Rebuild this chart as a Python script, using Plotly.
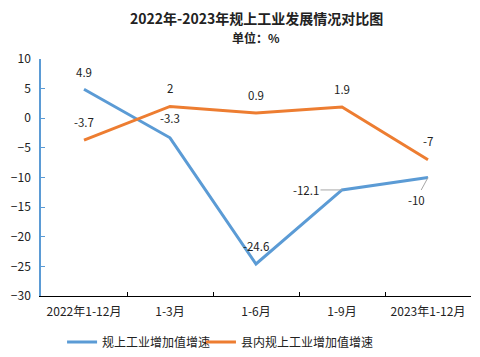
import plotly.graph_objects as go

categories = ["2022年1-12月", "1-3月", "1-6月", "1-9月", "2023年1-12月"]
series_a_name = "规上工业增加值增速"
series_a = [4.9, -3.3, -24.6, -12.1, -10]
series_b_name = "县内规上工业增加值增速"
series_b = [-3.7, 2, 0.9, 1.9, -7]
y_ticks = [10, 5, 0, -5, -10, -15, -20, -25, -30]

BLUE = "#5B9BD5"
ORANGE = "#ED7D31"
FONT = "Noto Sans CJK SC, DejaVu Sans, sans-serif"

fig = go.Figure()
fig.add_trace(go.Scatter(x=categories, y=series_a, mode="lines", name=series_a_name,
                         line=dict(color=BLUE, width=3), legend="legend"))
fig.add_trace(go.Scatter(x=categories, y=series_b, mode="lines", name=series_b_name,
                         line=dict(color=ORANGE, width=3), legend="legend2"))

# data labels (offsets in pixels)
offsets_a = [(0, -17, False), (0, -20, False), (0, -18, False), (-36, 0, True), (-12, 22, True)]
offsets_b = [(0, -18, False), (0, -18, False), (0, -18, False), (0, -18, False), (0, -19, False)]
for cat, v, (ax, ay, arrow) in zip(categories, series_a, offsets_a):
    fig.add_annotation(x=cat, y=v, text=f"{v:g}", showarrow=True, ax=ax, ay=ay,
                       arrowhead=0, arrowwidth=1,
                       arrowcolor="#A6A6A6" if arrow else "rgba(0,0,0,0)",
                       standoff=0, font=dict(size=11.5, color="#222", family=FONT))
for cat, v, (ax, ay, arrow) in zip(categories, series_b, offsets_b):
    fig.add_annotation(x=cat, y=v, text=f"{v:g}", showarrow=True, ax=ax, ay=ay,
                       arrowhead=0, arrowcolor="rgba(0,0,0,0)",
                       font=dict(size=11.5, color="#222", family=FONT))

# title and unit line
fig.add_annotation(text="<b>2022年-2023年规上工业发展情况对比图</b>", xref="paper", yref="paper",
                   x=0.5, y=1, yshift=41, showarrow=False, xanchor="center", yanchor="middle",
                   font=dict(size=14, family=FONT, color="#222"))
fig.add_annotation(text="<b>单位：%</b>", xref="paper", yref="paper",
                   x=0.5, y=1, yshift=22, showarrow=False, xanchor="center", yanchor="middle",
                   font=dict(size=12, family=FONT, color="#222"))

legend_common = dict(orientation="h", y=-0.194, yanchor="middle", xanchor="left",
                     font=dict(size=12, family=FONT, color="#222"), itemwidth=30,
                     bgcolor="rgba(0,0,0,0)")

fig.update_layout(
    width=480, height=357,
    margin=dict(l=33, r=17, t=51, b=69, autoexpand=False),
    paper_bgcolor="white", plot_bgcolor="white",
    font=dict(family=FONT, size=12, color="#222"),
    showlegend=True,
    legend=dict(x=0.049, **legend_common),
    legend2=dict(x=0.372, **legend_common),
    xaxis=dict(type="category", showline=True, linecolor="#000", linewidth=1,
               ticks="inside", ticklen=4, tickcolor="#000", tickson="boundaries",
               showgrid=False, tickfont=dict(size=12), range=[-0.5, 4.5], automargin=False,
               ticklabelstandoff=5),
    yaxis=dict(range=[-30, 10], tickvals=y_ticks, showline=True, linecolor=BLUE,
               linewidth=1.5, ticks="inside", ticklen=4, tickcolor=BLUE,
               showgrid=False, zeroline=False, tickfont=dict(size=12), automargin=False,
               ticklabelstandoff=6),
)

fig.write_html("out.html")
